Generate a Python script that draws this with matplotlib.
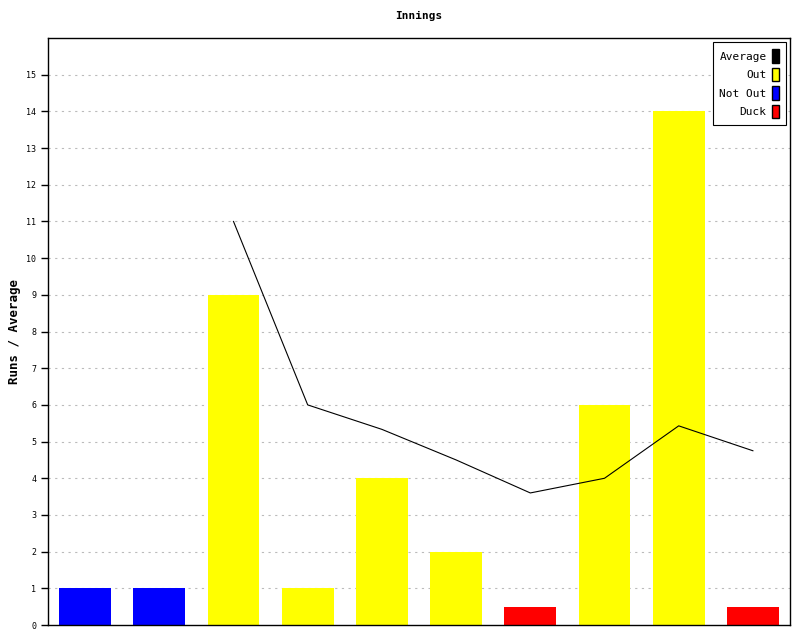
import matplotlib
matplotlib.use("Agg")
import matplotlib.pyplot as plt
import matplotlib.patches as mpatches
import numpy as np

# innings data
runs = [1, 1, 9, 1, 4, 2, 0.5, 6, 14, 0.5]
kinds = ["Not Out", "Not Out", "Out", "Out", "Out", "Out", "Duck", "Out", "Out", "Duck"]
avg_idx = [2, 3, 4, 5, 6, 7, 8, 9]
avg_vals = [11, 6, 5.333, 4.5, 3.6, 4, 5.429, 4.75]

colors = {"Out": "#ffff00", "Not Out": "#0000ff", "Duck": "#ff0000"}

plt.rcParams["font.family"] = ["DejaVu Sans Mono"]

fig = plt.figure(figsize=(8, 6.4), dpi=100)
ax = fig.add_axes([0.06, 0.0234, 0.9275, 0.9172])

x = np.arange(len(runs))
ax.bar(x, runs, width=0.7, color=[colors[k] for k in kinds], zorder=2)
ax.plot(avg_idx, avg_vals, color="black", linewidth=0.8, zorder=3)

ax.set_xlim(-0.5, len(runs) - 0.5)
ax.set_ylim(0, 16)
ax.set_yticks(range(0, 16))
ax.set_xticks([])
ax.tick_params(axis="y", direction="out", length=5, width=1, labelsize=6)
for s in ax.spines.values():
    s.set_linewidth(1)
for v in range(1, 16):
    ax.axhline(v, color="#bbbbbb", linestyle=(0, (2, 4)), linewidth=0.8, zorder=1)

ax.set_title("Innings", fontsize=8, fontweight="bold", pad=14)
ax.set_ylabel("Runs / Average", fontsize=9, fontweight="bold", labelpad=4)

handles = [
    mpatches.Patch(facecolor="black", edgecolor="black", label="Average"),
    mpatches.Patch(facecolor=colors["Out"], edgecolor="black", label="Out"),
    mpatches.Patch(facecolor=colors["Not Out"], edgecolor="black", label="Not Out"),
    mpatches.Patch(facecolor=colors["Duck"], edgecolor="black", label="Duck"),
]
leg = ax.legend(handles=handles, loc="upper right", markerfirst=False, fontsize=8,
                fancybox=False, framealpha=1, edgecolor="black",
                handlelength=0.6, handleheight=1.5, handletextpad=0.5,
                labelspacing=0.45, borderaxespad=0.4, borderpad=0.6)
leg.get_frame().set_linewidth(0.8)
for t in leg.get_texts():
    t.set_ha("right")

fig.savefig("out.png", dpi=100)
